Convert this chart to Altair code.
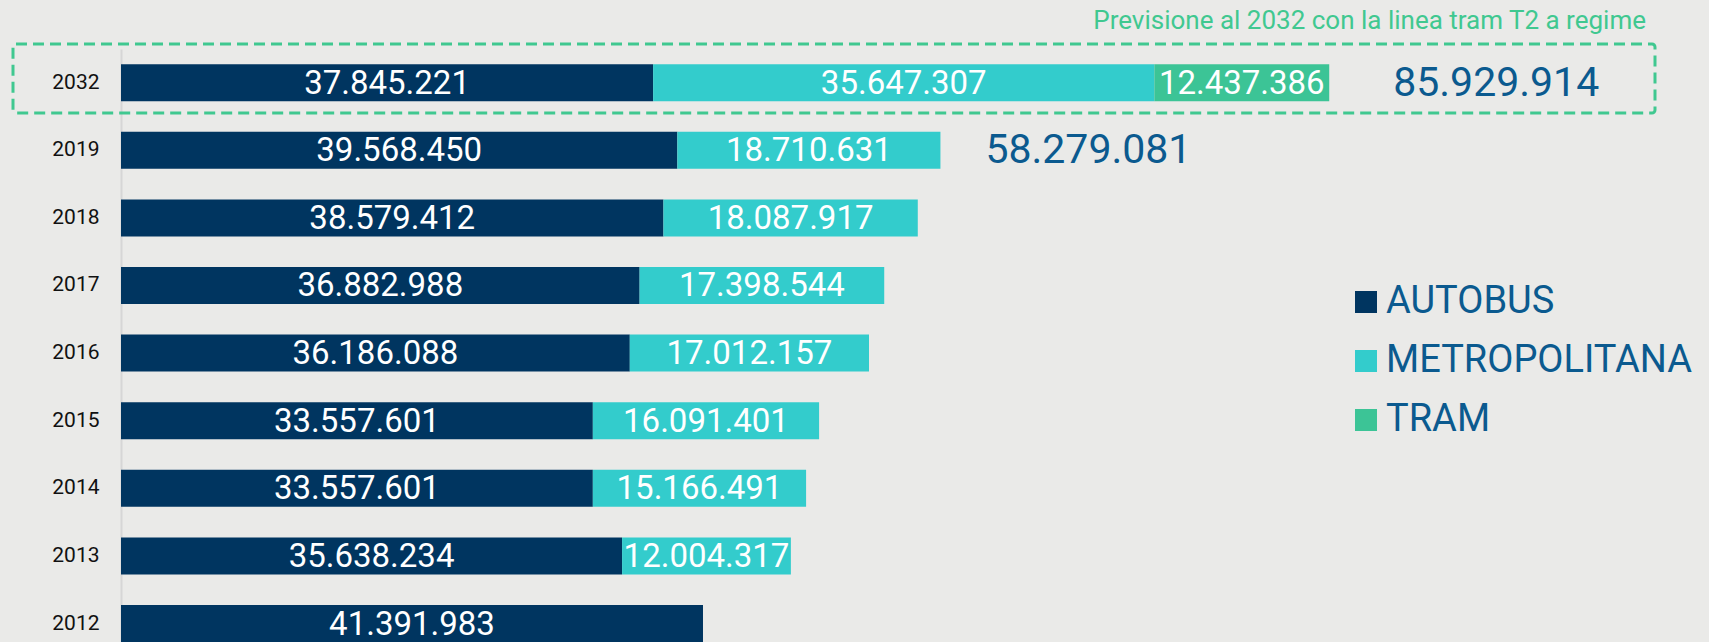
import altair as alt
import pandas as pd

years = ["2032", "2019", "2018", "2017", "2016", "2015", "2014", "2013", "2012"]
autobus = [37845221, 39568450, 38579412, 36882988, 36186088, 33557601, 33557601, 35638234, 41391983]
metro = [35647307, 18710631, 18087917, 17398544, 17012157, 16091401, 15166491, 12004317, 0]
tram = [12437386, 0, 0, 0, 0, 0, 0, 0, 0]
modes = ["AUTOBUS", "METROPOLITANA", "TRAM"]
colors = ["#003560", "#33CCCC", "#3CC496"]
total_years = ["2032", "2019"]
note_text = "Previsione al 2032 con la linea tram T2 a regime"


def it_fmt(v):
    return f"{v:,}".replace(",", ".")


rows = []
for i, y in enumerate(years):
    for k, (m, vals) in enumerate(zip(modes, [autobus, metro, tram])):
        v = vals[i]
        if v > 0:
            rows.append(dict(year=y, mode=m, k=k, value=v, label=it_fmt(v)))
df = pd.DataFrame(rows)

tot_rows = []
for i, y in enumerate(years):
    if y in total_years:
        t = autobus[i] + metro[i] + tram[i]
        tot_rows.append(dict(year=y, total=t, label=it_fmt(t)))
tdf = pd.DataFrame(tot_rows)

FONT = "Roboto"
xscale = alt.Scale(domain=[0, 112940000], nice=False, zero=True)
yscale = alt.Scale(domain=years, paddingInner=0.453, paddingOuter=0.1124, align=1)
yenc = alt.Y("year:N", sort=years, scale=yscale, title=None,
             axis=alt.Axis(ticks=False, domain=True, domainColor="#D6D6D6", domainWidth=2,
                           labelFont=FONT, labelFontSize=21, labelColor="#111111",
                           labelPadding=22, grid=False))

base = alt.Chart(df).transform_stack(
    stack="value", groupby=["year"], sort=[alt.SortField("k")], as_=["x0", "x1"]
).transform_calculate(mid="(datum.x0 + datum.x1) / 2")

bars = base.mark_bar(strokeWidth=0).encode(
    x=alt.X("x0:Q", scale=xscale, axis=None),
    x2="x1:Q",
    y=yenc,
    color=alt.Color("mode:N", scale=alt.Scale(domain=modes, range=colors),
                    legend=alt.Legend(title=None, orient="none", legendX=1226, legendY=234,
                                      symbolType="square", symbolSize=484, symbolStrokeWidth=0,
                                      symbolOpacity=1, labelFont=FONT, labelFontSize=38,
                                      labelLimit=600,
                                      labelColor="#0B5A8F", rowPadding=21, labelOffset=1)),
)

seg = base.mark_text(color="white", fontSize=33, font=FONT, baseline="middle", dy=1).encode(
    x=alt.X("mid:Q", scale=xscale),
    y=alt.Y("year:N", sort=years, scale=yscale),
    text="label:N",
)

tot_a = alt.Chart(tdf).transform_filter(alt.datum.year == "2032").mark_text(
    color="#0B5A8F", fontSize=41, font=FONT, align="left", baseline="middle", dx=64, dy=1
).encode(x=alt.X("total:Q", scale=xscale), y=alt.Y("year:N", sort=years, scale=yscale), text="label:N")

tot_b = alt.Chart(tdf).transform_filter(alt.datum.year == "2019").mark_text(
    color="#0B5A8F", fontSize=41, font=FONT, align="left", baseline="middle", dx=45, dy=1
).encode(x=alt.X("total:Q", scale=xscale), y=alt.Y("year:N", sort=years, scale=yscale), text="label:N")

deco = pd.DataFrame({"t": [note_text]})
box = alt.Chart(deco).mark_rect(filled=False, stroke="#40C890", strokeWidth=3,
                                strokeDash=[11, 6], cornerRadius=3).encode(
    x=alt.value(-108), x2=alt.value(1534), y=alt.value(-5), y2=alt.value(64))
note = alt.Chart(deco).mark_text(color="#40C890", fontSize=26, font=FONT, align="right",
                                 baseline="middle").encode(
    x=alt.value(1525), y=alt.value(-28), text="t:N")

chart = alt.layer(bars, seg, tot_a, tot_b, box, note).properties(
    width=1588, height=593,
    autosize=alt.AutoSizeParams(type="none"),
    padding={"left": 121, "top": 49, "right": 0, "bottom": 0},
    background="#EAEAE8",
).configure_view(stroke=None)

chart.save("out.html", embed_options={"renderer": "svg", "actions": False})
